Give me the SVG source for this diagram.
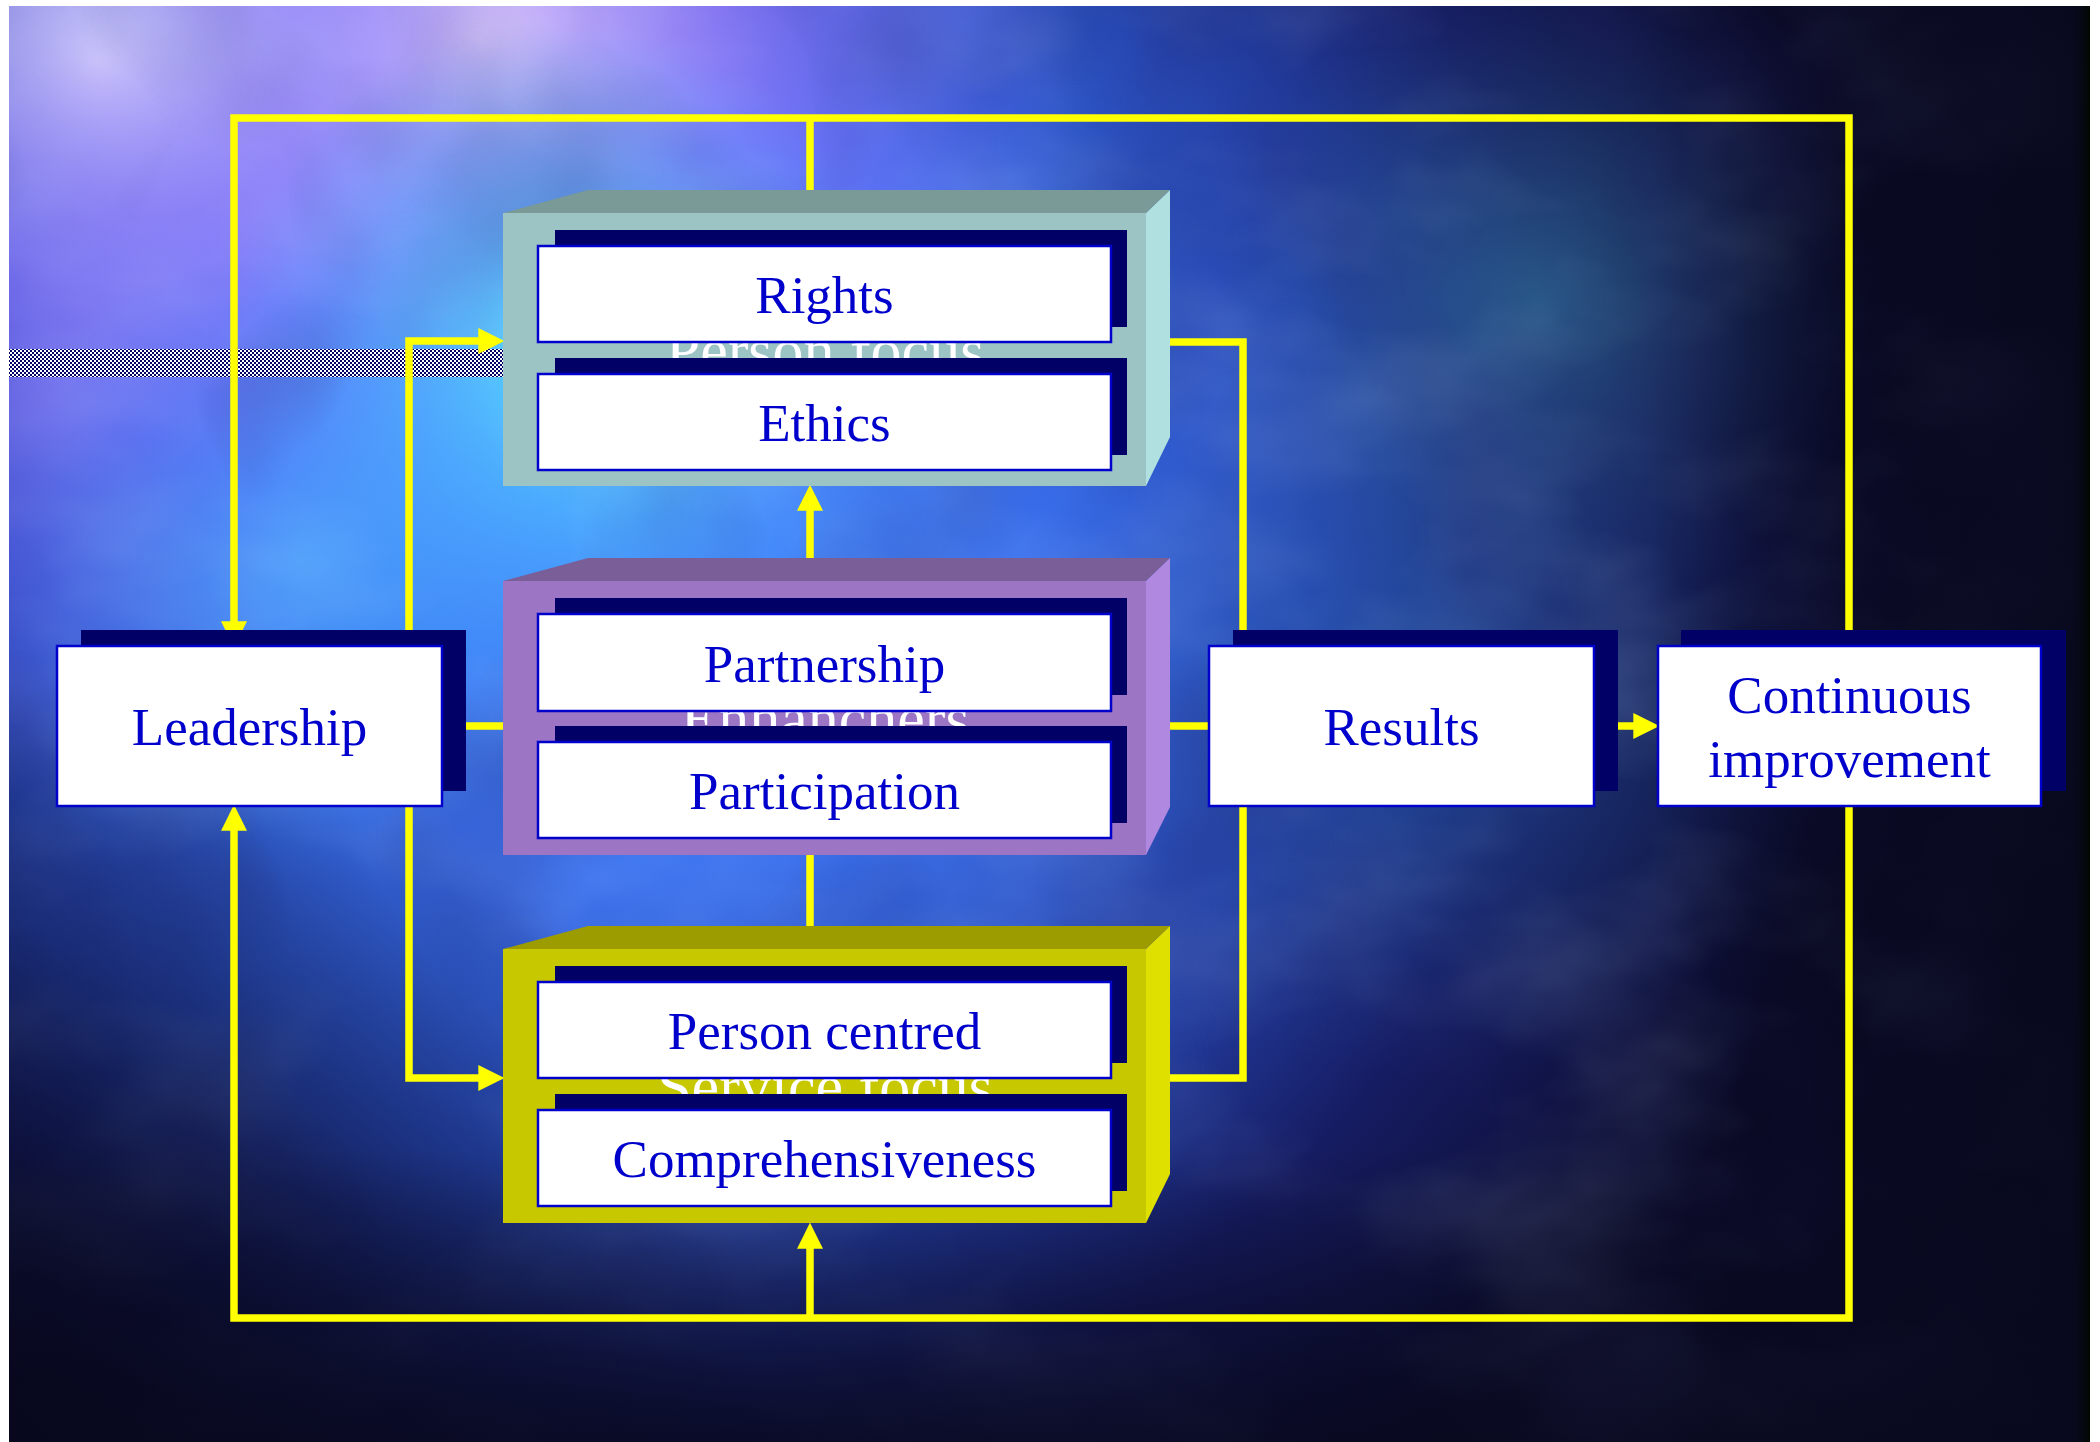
<svg xmlns="http://www.w3.org/2000/svg" width="2100" height="1442" viewBox="0 0 2100 1442">
<defs>
<style>
.shadow{fill:#000066}
.card{fill:#ffffff;stroke:#0000cc;stroke-width:2.5}
.lbl{font-family:"Liberation Serif","Times New Roman",serif;font-size:53px;fill:#0000cc;text-anchor:middle}
.bg{font-family:"Liberation Serif","Times New Roman",serif;font-size:62px;fill:#ffffff;text-anchor:middle}
.conn{fill:none;stroke:#ffff00;stroke-width:7.5;stroke-linejoin:miter}
</style>
<marker id="arr" markerUnits="userSpaceOnUse" markerWidth="26" markerHeight="26" viewBox="0 0 24 24" refX="8" refY="12" orient="auto-start-reverse">
<path d="M0,0 L24,12 L0,24 z" fill="#ffff00"/>
</marker>
<pattern id="chk" width="4" height="4" patternUnits="userSpaceOnUse">
<rect width="4" height="4" fill="#ffffff"/>
<rect width="2" height="2" fill="#000066"/>
<rect x="2" y="2" width="2" height="2" fill="#000066"/>
</pattern>
<radialGradient id="gMain" gradientUnits="userSpaceOnUse" cx="640" cy="500" r="1250">
<stop offset="0" stop-color="#4a90ff"/>
<stop offset="0.3" stop-color="#3a70ee"/>
<stop offset="0.55" stop-color="#2646b0"/>
<stop offset="0.75" stop-color="#161c62"/>
<stop offset="1" stop-color="#0a0a26"/>
</radialGradient>
<radialGradient id="gPink" gradientUnits="userSpaceOnUse" cx="480" cy="40" r="600">
<stop offset="0" stop-color="#e8d0ff" stop-opacity="0.95"/>
<stop offset="0.4" stop-color="#b080ff" stop-opacity="0.65"/>
<stop offset="1" stop-color="#8060ff" stop-opacity="0"/>
</radialGradient>
<radialGradient id="gLav" gradientUnits="userSpaceOnUse" cx="100" cy="60" r="420">
<stop offset="0" stop-color="#d8d0ff" stop-opacity="0.9"/>
<stop offset="0.5" stop-color="#a098ff" stop-opacity="0.55"/>
<stop offset="1" stop-color="#8080ff" stop-opacity="0"/>
</radialGradient>
<radialGradient id="gPink2" gradientUnits="userSpaceOnUse" cx="60" cy="420" r="380">
<stop offset="0" stop-color="#9070ff" stop-opacity="0.55"/>
<stop offset="1" stop-color="#7050ff" stop-opacity="0"/>
</radialGradient>
<radialGradient id="gCyan" gradientUnits="userSpaceOnUse" cx="560" cy="360" r="340">
<stop offset="0" stop-color="#55ecff" stop-opacity="0.9"/>
<stop offset="0.5" stop-color="#40c8ff" stop-opacity="0.5"/>
<stop offset="1" stop-color="#40a0ff" stop-opacity="0"/>
</radialGradient>
<radialGradient id="gCyan2" gradientUnits="userSpaceOnUse" cx="300" cy="560" r="320">
<stop offset="0" stop-color="#48c0ff" stop-opacity="0.55"/>
<stop offset="1" stop-color="#4090ff" stop-opacity="0"/>
</radialGradient>
<radialGradient id="gTeal" gradientUnits="userSpaceOnUse" cx="1540" cy="300" r="330">
<stop offset="0" stop-color="#3a90a8" stop-opacity="0.5"/>
<stop offset="1" stop-color="#2a6080" stop-opacity="0"/>
</radialGradient>
<radialGradient id="gTeal2" gradientUnits="userSpaceOnUse" cx="1450" cy="700" r="380">
<stop offset="0" stop-color="#2a70b0" stop-opacity="0.4"/>
<stop offset="1" stop-color="#2a60a0" stop-opacity="0"/>
</radialGradient>
<radialGradient id="gDarkBL" gradientUnits="userSpaceOnUse" cx="0" cy="1442" r="760">
<stop offset="0" stop-color="#05051a" stop-opacity="0.95"/>
<stop offset="1" stop-color="#05051a" stop-opacity="0"/>
</radialGradient>
<linearGradient id="gDarkR" gradientUnits="userSpaceOnUse" x1="1650" y1="0" x2="2075" y2="0">
<stop offset="0" stop-color="#08081e" stop-opacity="0"/>
<stop offset="1" stop-color="#08081e" stop-opacity="0.95"/>
</linearGradient>
<linearGradient id="gDarkB" gradientUnits="userSpaceOnUse" x1="0" y1="1150" x2="0" y2="1442">
<stop offset="0" stop-color="#08081e" stop-opacity="0"/>
<stop offset="1" stop-color="#08081e" stop-opacity="0.85"/>
</linearGradient>
<linearGradient id="gEdge" x1="0" y1="0" x2="1" y2="0">
<stop offset="0" stop-color="#0a0a20" stop-opacity="0"/>
<stop offset="1" stop-color="#020800"/>
</linearGradient>
<filter id="clouds" x="0" y="0" width="100%" height="100%">
<feTurbulence type="fractalNoise" baseFrequency="0.0035 0.006" numOctaves="4" seed="7"/>
<feColorMatrix type="matrix" values="0 0 0 0 0.6  0 0 0 0 0.8  0 0 0 0 1  1.6 0 0 0 -0.7"/>
</filter>
<filter id="clouds2" x="0" y="0" width="100%" height="100%">
<feTurbulence type="fractalNoise" baseFrequency="0.004 0.003" numOctaves="3" seed="21"/>
<feColorMatrix type="matrix" values="0 0 0 0 0.02  0 0 0 0 0.02  0 0 0 0 0.15  0 1.8 0 0 -0.85"/>
</filter>
</defs>

<g id="background">
<rect x="0" y="0" width="2100" height="1442" fill="#ffffff"/>
<rect x="9" y="6" width="2081" height="1436" fill="url(#gMain)"/>
<rect x="9" y="6" width="2081" height="1436" fill="url(#gPink)"/>
<rect x="9" y="6" width="2081" height="1436" fill="url(#gLav)"/>
<rect x="9" y="6" width="2081" height="1436" fill="url(#gPink2)"/>
<rect x="9" y="6" width="2081" height="1436" fill="url(#gCyan)"/>
<rect x="9" y="6" width="2081" height="1436" fill="url(#gCyan2)"/>
<rect x="9" y="6" width="2081" height="1436" fill="url(#gTeal)"/>
<rect x="9" y="6" width="2081" height="1436" fill="url(#gTeal2)"/>
<rect x="9" y="6" width="2081" height="1436" filter="url(#clouds)" opacity="0.22"/>
<rect x="9" y="6" width="2081" height="1436" filter="url(#clouds2)" opacity="0.45"/>
<rect x="9" y="6" width="2081" height="1436" fill="url(#gDarkBL)"/>
<rect x="9" y="6" width="2081" height="1436" fill="url(#gDarkR)"/>
<rect x="9" y="6" width="2081" height="1436" fill="url(#gDarkB)"/>
<rect x="2068" y="6" width="22" height="1436" fill="url(#gEdge)"/>
<rect x="9" y="349" width="494" height="28" fill="url(#chk)"/>
</g>

<g id="connectors">
<path class="conn" d="M1849,640 V118 H234 V630" marker-end="url(#arr)"/>
<path class="conn" d="M810,118 V200"/>
<path class="conn" d="M1849,800 V1318 H234 V822" marker-end="url(#arr)"/>
<path class="conn" d="M810,1318 V1240" marker-end="url(#arr)"/>
<path class="conn" d="M810,570 V502" marker-end="url(#arr)"/>
<path class="conn" d="M810,845 V935"/>
<path class="conn" d="M440,726 H1215"/>
<path class="conn" d="M1610,726 H1642" marker-end="url(#arr)"/>
<path class="conn" d="M487,341 H409 V1078 H487" marker-start="url(#arr)" marker-end="url(#arr)"/>
<path class="conn" d="M1150,342 H1243 V1078 H1150"/>
</g>

<g id="person-focus">
<polygon points="503,213 588,190 1170,190 1146,213" fill="#7a9a98"/>
<polygon points="1146,213 1170,190 1170,437 1146,486" fill="#b0e0e0"/>
<rect x="503" y="213" width="643" height="273" fill="#9cc4c4"/>
<text class="bg" x="825" y="371">Person focus</text>
<g id="rights">
<rect class="shadow" x="555" y="230" width="572" height="97"/>
<rect class="card" x="538" y="246" width="573" height="96"/>
<text class="lbl" x="824.5" y="313">Rights</text>
</g>
<g id="ethics">
<rect class="shadow" x="555" y="358" width="572" height="97"/>
<rect class="card" x="538" y="374" width="573" height="96"/>
<text class="lbl" x="824.5" y="441">Ethics</text>
</g>
</g>

<g id="enhanchers">
<polygon points="503,581 588,558 1170,558 1146,581" fill="#7a5e98"/>
<polygon points="1146,581 1170,558 1170,807 1146,855" fill="#b088e0"/>
<rect x="503" y="581" width="643" height="274" fill="#9c76c4"/>
<text class="bg" x="825" y="739">Enhanchers</text>
<g id="partnership">
<rect class="shadow" x="555" y="598" width="572" height="97"/>
<rect class="card" x="538" y="614" width="573" height="97"/>
<text class="lbl" x="824.5" y="682">Partnership</text>
</g>
<g id="participation">
<rect class="shadow" x="555" y="726" width="572" height="97"/>
<rect class="card" x="538" y="742" width="573" height="96"/>
<text class="lbl" x="824.5" y="809">Participation</text>
</g>
</g>

<g id="service-focus">
<polygon points="503,949 588,926 1170,926 1146,949" fill="#9c9c00"/>
<polygon points="1146,949 1170,926 1170,1174 1146,1223" fill="#e0e000"/>
<rect x="503" y="949" width="643" height="274" fill="#c8c800"/>
<text class="bg" x="825" y="1107">Service focus</text>
<g id="person-centred">
<rect class="shadow" x="555" y="966" width="572" height="97"/>
<rect class="card" x="538" y="982" width="573" height="96"/>
<text class="lbl" x="824.5" y="1049">Person centred</text>
</g>
<g id="comprehensiveness">
<rect class="shadow" x="555" y="1094" width="572" height="97"/>
<rect class="card" x="538" y="1110" width="573" height="96"/>
<text class="lbl" x="824.5" y="1177">Comprehensiveness</text>
</g>
</g>

<g id="leadership">
<rect class="shadow" x="81" y="630" width="385" height="161"/>
<rect class="card" x="57" y="646" width="385" height="160"/>
<text class="lbl" x="249.5" y="745">Leadership</text>
</g>

<g id="results">
<rect class="shadow" x="1233" y="630" width="385" height="161"/>
<rect class="card" x="1209" y="646" width="385" height="160"/>
<text class="lbl" x="1401.5" y="745">Results</text>
</g>

<g id="continuous-improvement">
<rect class="shadow" x="1681" y="630" width="385" height="161"/>
<rect class="card" x="1658" y="646" width="383" height="160"/>
<text class="lbl" x="1849.5" y="713">Continuous</text>
<text class="lbl" x="1849.5" y="777">improvement</text>
</g>
</svg>
